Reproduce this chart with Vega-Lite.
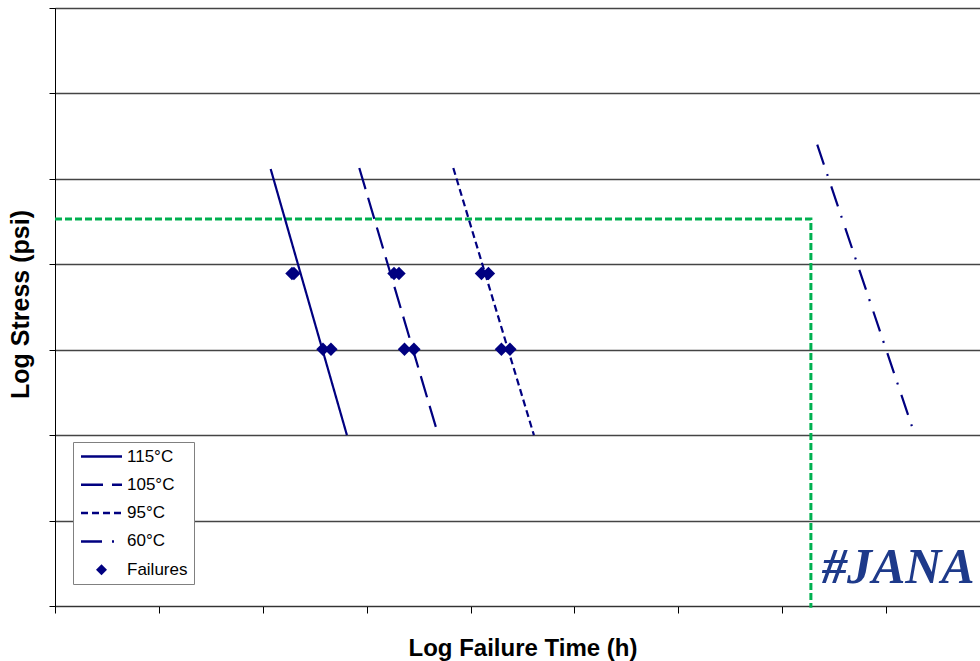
{
  "$schema": "https://vega.github.io/schema/vega-lite/v6.json",
  "width": 935,
  "height": 598,
  "autosize": {"type": "none"},
  "padding": {"left": 55, "top": 8, "right": 0, "bottom": 55},
  "background": "white",
  "config": {
    "view": {"stroke": "#000000", "strokeWidth": 1},
    "font": "Liberation Sans"
  },
  "datasets": {
    "guide": [
      {"x": 0, "y": 4.53, "o": 0},
      {"x": 7.276, "y": 4.53, "o": 1},
      {"x": 7.276, "y": -0.02, "o": 2}
    ],
    "lines": [
      {"series": "115°C", "x": 2.076, "y": 5.115},
      {"series": "115°C", "x": 2.81, "y": 2.0},
      {"series": "105°C", "x": 2.929, "y": 5.127},
      {"series": "105°C", "x": 3.689, "y": 2.0},
      {"series": "95°C", "x": 3.834, "y": 5.127},
      {"series": "95°C", "x": 4.61, "y": 2.0},
      {"series": "60°C", "x": 7.337, "y": 5.4},
      {"series": "60°C", "x": 8.277, "y": 2.0}
    ],
    "failures": [
      {"temp": "115°C", "x": 2.281, "y": 3.892},
      {"temp": "115°C", "x": 2.3, "y": 3.892},
      {"temp": "115°C", "x": 2.579, "y": 3.005},
      {"temp": "115°C", "x": 2.656, "y": 3.005},
      {"temp": "105°C", "x": 3.263, "y": 3.892},
      {"temp": "105°C", "x": 3.311, "y": 3.892},
      {"temp": "105°C", "x": 3.364, "y": 3.005},
      {"temp": "105°C", "x": 3.455, "y": 3.005},
      {"temp": "95°C", "x": 4.105, "y": 3.892},
      {"temp": "95°C", "x": 4.172, "y": 3.892},
      {"temp": "95°C", "x": 4.297, "y": 3.005},
      {"temp": "95°C", "x": 4.379, "y": 3.005}
    ],
    "logo": [
      {"t": "#JANA", "x": 7.382, "y": 0.27}
    ]
  },
  "encoding": {
    "x": {
      "field": "x",
      "type": "quantitative",
      "scale": {"domain": [0, 9], "nice": false, "zero": false},
      "axis": {
        "title": "Log Failure Time (h)",
        "labels": false,
        "grid": false,
        "values": [0, 1, 2, 3, 4, 5, 6, 7, 8, 9],
        "tickSize": 7,
        "tickColor": "#000000",
        "domainColor": "#333333",
        "titleFont": "Liberation Sans",
        "titleFontSize": 24,
        "titleFontWeight": "bold",
        "titleColor": "#000000",
        "titleBaseline": "alphabetic",
        "titleY": 49
      }
    },
    "y": {
      "field": "y",
      "type": "quantitative",
      "scale": {"domain": [0, 7], "nice": false, "zero": false},
      "axis": {
        "title": "Log Stress (psi)",
        "labels": false,
        "grid": true,
        "gridColor": "#444444",
        "gridWidth": 1.3,
        "values": [0, 1, 2, 3, 4, 5, 6, 7],
        "tickSize": 6,
        "tickColor": "#000000",
        "domainColor": "#000000",
        "titleFont": "Liberation Sans",
        "titleFontSize": 25,
        "titleFontWeight": "bold",
        "titleColor": "#000000",
        "titleAngle": -90,
        "titleAlign": "center",
        "titleBaseline": "alphabetic",
        "titleX": -27,
        "titleY": 296
      }
    }
  },
  "layer": [
    {
      "data": {"name": "guide"},
      "mark": {"type": "line", "color": "#00B050", "strokeWidth": 3, "strokeDash": [7, 3]},
      "encoding": {"order": {"field": "o", "type": "quantitative"}}
    },
    {
      "data": {"name": "lines"},
      "mark": {"type": "line", "color": "#000080", "strokeWidth": 2.2},
      "encoding": {
        "strokeDash": {
          "field": "series",
          "type": "nominal",
          "scale": {
            "domain": ["115°C", "105°C", "95°C", "60°C", "Failures"],
            "range": [[1, 0], [22, 9], [7, 4], [21, 10, 2, 11], [1, 0]]
          },
          "legend": {
            "title": null,
            "orient": "none",
            "legendX": 18,
            "legendY": 434,
            "direction": "vertical",
            "strokeColor": "#808080",
            "fillColor": "#ffffff",
            "padding": 6,
            "symbolType": "stroke",
            "symbolSize": 1681,
            "symbolStrokeWidth": 2.5,
            "symbolStrokeColor": "#000080",
            "symbolOffset": 14,
            "rowPadding": 10.3,
            "labelFont": "Liberation Sans",
            "labelFontSize": 17,
            "labelColor": "#000000",
            "labelOffset": 17,
            "labelLimit": 200,
            "labelExpr": "(datum.label == '95°C' || datum.label == '60°C') ? '\u2007' + datum.label : datum.label",
            "encode": {
              "symbols": {
                "update": {
                  "shape": {"signal": "datum.value == 'Failures' ? 'diamond' : 'stroke'"},
                  "size": {"signal": "datum.value == 'Failures' ? 120 : 1681"},
                  "fill": {"signal": "datum.value == 'Failures' ? '#000080' : 'transparent'"},
                  "stroke": {"value": "#000080"},
                  "strokeWidth": {"signal": "datum.value == 'Failures' ? 0 : 2.5"}
                }
              }
            }
          }
        }
      }
    },
    {
      "data": {"name": "failures"},
      "mark": {"type": "point", "shape": "diamond", "filled": true, "size": 180, "color": "#000080", "opacity": 1}
    },
    {
      "data": {"name": "logo"},
      "mark": {"type": "text", "font": "Liberation Serif", "fontStyle": "italic", "fontWeight": "bold", "fontSize": 50, "color": "#1E3A8A", "align": "left", "baseline": "alphabetic"},
      "encoding": {"text": {"field": "t", "type": "nominal"}}
    }
  ]
}
